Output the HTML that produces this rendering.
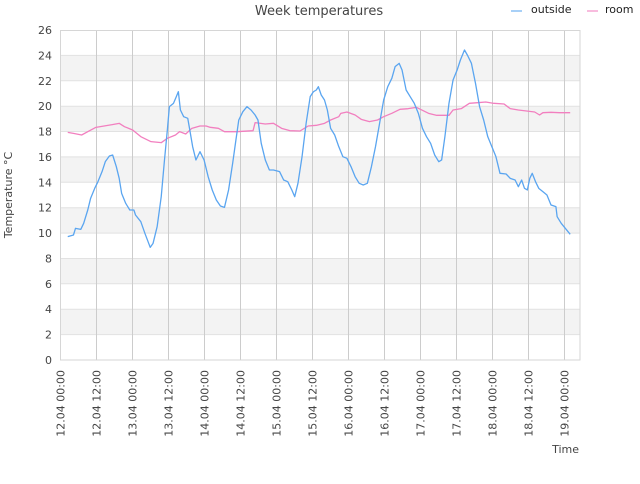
<!DOCTYPE html>
<html><head><meta charset="utf-8"><style>
body{margin:0;background:#fff;width:640px;height:480px;overflow:hidden;font-family:"DejaVu Sans","Liberation Sans",sans-serif;}
</style></head><body>
<svg width="640" height="480" xmlns="http://www.w3.org/2000/svg" font-family="DejaVu Sans, Liberation Sans, sans-serif">
<g fill="#f3f3f3">
<rect x="60.5" y="55.4" width="519.5" height="25.4"/>
<rect x="60.5" y="106.2" width="519.5" height="25.4"/>
<rect x="60.5" y="156.9" width="519.5" height="25.4"/>
<rect x="60.5" y="207.7" width="519.5" height="25.4"/>
<rect x="60.5" y="258.5" width="519.5" height="25.4"/>
<rect x="60.5" y="309.2" width="519.5" height="25.4"/>
</g>
<g stroke="#e2e2e2" stroke-width="1">
<line x1="60.5" x2="580" y1="55.4" y2="55.4"/><line x1="60.5" x2="580" y1="80.8" y2="80.8"/>
<line x1="60.5" x2="580" y1="106.2" y2="106.2"/><line x1="60.5" x2="580" y1="131.5" y2="131.5"/>
<line x1="60.5" x2="580" y1="156.9" y2="156.9"/><line x1="60.5" x2="580" y1="182.3" y2="182.3"/>
<line x1="60.5" x2="580" y1="207.7" y2="207.7"/><line x1="60.5" x2="580" y1="233.1" y2="233.1"/>
<line x1="60.5" x2="580" y1="258.5" y2="258.5"/><line x1="60.5" x2="580" y1="283.8" y2="283.8"/>
<line x1="60.5" x2="580" y1="309.2" y2="309.2"/><line x1="60.5" x2="580" y1="334.6" y2="334.6"/>
</g>
<g stroke="#cccccc" stroke-width="1">
<line x1="96.5" x2="96.5" y1="30" y2="360"/><line x1="132.5" x2="132.5" y1="30" y2="360"/>
<line x1="168.5" x2="168.5" y1="30" y2="360"/><line x1="204.5" x2="204.5" y1="30" y2="360"/>
<line x1="240.5" x2="240.5" y1="30" y2="360"/><line x1="276.5" x2="276.5" y1="30" y2="360"/>
<line x1="312.5" x2="312.5" y1="30" y2="360"/><line x1="348.5" x2="348.5" y1="30" y2="360"/>
<line x1="384.5" x2="384.5" y1="30" y2="360"/><line x1="420.5" x2="420.5" y1="30" y2="360"/>
<line x1="456.5" x2="456.5" y1="30" y2="360"/><line x1="492.5" x2="492.5" y1="30" y2="360"/>
<line x1="528.5" x2="528.5" y1="30" y2="360"/><line x1="564.5" x2="564.5" y1="30" y2="360"/>
</g>
<rect x="60.5" y="30.5" width="519.5" height="329.5" fill="none" stroke="#d6d6d6"/>
<g transform="scale(0.40816,0.33333)" fill="none" stroke-width="1.3" stroke-linejoin="round">
<polyline vector-effect="non-scaling-stroke" stroke="#f27fbf" points="166,397 180,400 200,405 215,395 235,382 255,378 275,374 292,370 305,380 325,390 345,410 370,425 395,428 410,415 430,405 440,395 455,402 470,385 490,378 505,378 515,382 535,385 550,395 580,395 620,392 625,368 650,372 670,370 690,385 710,392 735,393 755,378 775,376 795,370 810,360 830,350 835,340 850,336 870,345 885,358 905,365 925,360 940,350 960,340 980,328 1000,326 1020,322 1030,328 1050,340 1070,346 1100,346 1110,330 1130,326 1150,310 1170,308 1190,306 1210,310 1235,312 1250,326 1270,330 1290,333 1310,336 1322,345 1330,338 1350,337 1370,338 1397,338"/>
<polyline vector-effect="non-scaling-stroke" stroke="#5aa5f0" points="166,710 180,705 185,685 198,688 205,670 215,630 222,595 232,565 240,545 250,515 258,485 268,468 276,465 285,500 292,535 298,580 308,610 318,630 328,630 332,645 345,665 355,700 368,742 375,730 385,680 395,590 403,480 410,390 415,320 425,310 432,290 437,275 442,330 450,350 460,355 465,390 472,440 480,480 490,455 500,480 510,530 520,570 530,600 540,618 550,622 560,570 570,490 578,420 585,360 595,335 605,320 615,330 625,345 632,360 640,430 650,480 660,510 670,510 685,515 695,540 705,545 715,570 722,590 730,550 740,470 750,370 760,290 768,275 775,270 780,260 787,285 795,300 802,330 810,385 820,405 830,440 840,470 850,475 860,500 870,530 880,550 890,555 900,550 910,500 920,440 930,370 940,300 950,260 960,235 968,200 978,190 985,210 995,270 1005,290 1015,310 1025,340 1035,385 1045,410 1055,430 1065,465 1075,485 1082,480 1090,410 1100,310 1110,240 1120,210 1128,180 1138,150 1145,165 1155,190 1165,250 1175,320 1185,360 1195,410 1205,440 1215,470 1225,520 1240,522 1250,535 1262,540 1270,560 1278,540 1285,565 1292,570 1298,535 1304,520 1312,545 1320,565 1330,575 1340,585 1350,615 1362,620 1365,650 1375,670 1385,685 1397,703"/>
</g>
<g font-size="11" fill="#444" text-anchor="end">
<text x="52" y="364">0</text><text x="52" y="338.6">2</text><text x="52" y="313.2">4</text>
<text x="52" y="287.8">6</text><text x="52" y="262.5">8</text><text x="52" y="237.1">10</text>
<text x="52" y="211.7">12</text><text x="52" y="186.3">14</text><text x="52" y="160.9">16</text>
<text x="52" y="135.5">18</text><text x="52" y="110.2">20</text><text x="52" y="84.8">22</text>
<text x="52" y="59.4">24</text><text x="52" y="34">26</text>
</g>
<g font-size="11" fill="#444" text-anchor="end">
<text transform="translate(64.5,370) rotate(-90)">12.04 00:00</text>
<text transform="translate(100.5,370) rotate(-90)">12.04 12:00</text>
<text transform="translate(136.5,370) rotate(-90)">13.04 00:00</text>
<text transform="translate(172.5,370) rotate(-90)">13.04 12:00</text>
<text transform="translate(208.5,370) rotate(-90)">14.04 00:00</text>
<text transform="translate(244.5,370) rotate(-90)">14.04 12:00</text>
<text transform="translate(280.5,370) rotate(-90)">15.04 00:00</text>
<text transform="translate(316.5,370) rotate(-90)">15.04 12:00</text>
<text transform="translate(352.5,370) rotate(-90)">16.04 00:00</text>
<text transform="translate(388.5,370) rotate(-90)">16.04 12:00</text>
<text transform="translate(424.5,370) rotate(-90)">17.04 00:00</text>
<text transform="translate(460.5,370) rotate(-90)">17.04 12:00</text>
<text transform="translate(496.5,370) rotate(-90)">18.04 00:00</text>
<text transform="translate(532.5,370) rotate(-90)">18.04 12:00</text>
<text transform="translate(568.5,370) rotate(-90)">19.04 00:00</text>
</g>
<text x="319" y="15" font-size="13" fill="#444" text-anchor="middle">Week temperatures</text>
<text transform="translate(12,195) rotate(-90)" font-size="11" fill="#444" text-anchor="middle">Temperature °C</text>
<text x="579" y="453" font-size="11" fill="#444" text-anchor="end">Time</text>
<line x1="511" x2="522" y1="11" y2="11" stroke="#5aa5f0" stroke-width="1.5" opacity="0.7"/>
<text x="531" y="13" font-size="11" fill="#222">outside</text>
<line x1="587" x2="598" y1="11" y2="11" stroke="#f27fbf" stroke-width="1.5" opacity="0.7"/>
<text x="605" y="13" font-size="11" fill="#222">room</text>
</svg>
</body></html>
